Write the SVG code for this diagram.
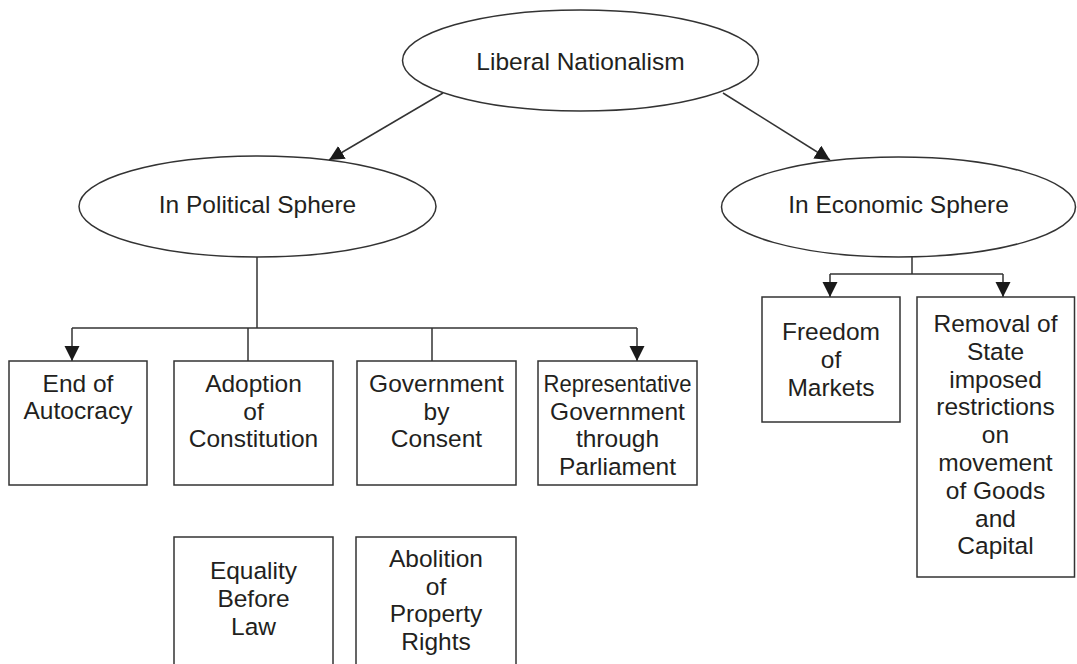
<svg xmlns="http://www.w3.org/2000/svg" width="1077" height="664" viewBox="0 0 1077 664">
<style>
.shape{fill:#fff;stroke:#333;stroke-width:1.5}
.line{fill:none;stroke:#333;stroke-width:1.5}
text{font-family:"Liberation Sans",Arial,sans-serif;font-size:24.5px;fill:#231f20;text-anchor:middle}
</style>
<defs>
<marker id="arr" markerUnits="userSpaceOnUse" markerWidth="16" markerHeight="16" refX="15" refY="7.5" orient="auto" viewBox="0 0 16 16">
<path d="M0,0 L15,7.5 L0,15 z" fill="#1a1a1a"/>
</marker>
</defs>
<rect width="1077" height="664" fill="#fff"/>
<g id="connectors">
<line class="line" x1="443" y1="93" x2="329" y2="160" marker-end="url(#arr)"/>
<line class="line" x1="723" y1="93" x2="830" y2="160" marker-end="url(#arr)"/>
<polyline class="line" points="257,257 257,328"/>
<polyline class="line" points="72,328 637,328"/>
<line class="line" x1="72" y1="328" x2="72" y2="361" marker-end="url(#arr)"/>
<line class="line" x1="248" y1="328" x2="248" y2="361"/>
<line class="line" x1="432" y1="328" x2="432" y2="361"/>
<line class="line" x1="637" y1="328" x2="637" y2="361" marker-end="url(#arr)"/>
<polyline class="line" points="912,257 912,274"/>
<polyline class="line" points="830,274 1003,274"/>
<line class="line" x1="830" y1="274" x2="830" y2="297" marker-end="url(#arr)"/>
<line class="line" x1="1003" y1="274" x2="1003" y2="297" marker-end="url(#arr)"/>
</g>
<g id="liberal-nationalism">
<ellipse class="shape" cx="580.5" cy="60.5" rx="178" ry="50.5"/>
<text x="580.5" y="70">Liberal Nationalism</text>
</g>
<g id="political-sphere">
<ellipse class="shape" cx="257.5" cy="206.5" rx="178.5" ry="50.5"/>
<text x="257.5" y="213">In Political Sphere</text>
</g>
<g id="economic-sphere">
<ellipse class="shape" cx="898.5" cy="207" rx="177" ry="50"/>
<text x="898.5" y="213">In Economic Sphere</text>
</g>
<g id="end-of-autocracy">
<rect class="shape" x="9" y="361" width="138" height="124"/>
<text x="78" y="392">End of</text>
<text x="78" y="419">Autocracy</text>
</g>
<g id="adoption-of-constitution">
<rect class="shape" x="174" y="361" width="159" height="124"/>
<text x="253.5" y="392">Adoption</text>
<text x="253.5" y="419.5">of</text>
<text x="253.5" y="447">Constitution</text>
</g>
<g id="government-by-consent">
<rect class="shape" x="357" y="361" width="159" height="124"/>
<text x="436.5" y="392">Government</text>
<text x="436.5" y="419.5">by</text>
<text x="436.5" y="447">Consent</text>
</g>
<g id="representative-government">
<rect class="shape" x="538" y="361" width="159" height="124"/>
<text x="617.5" y="392" textLength="148" lengthAdjust="spacingAndGlyphs">Representative</text>
<text x="617.5" y="419.5">Government</text>
<text x="617.5" y="447">through</text>
<text x="617.5" y="474.5">Parliament</text>
</g>
<g id="equality-before-law">
<rect class="shape" x="174" y="537" width="159" height="140"/>
<text x="253.5" y="579">Equality</text>
<text x="253.5" y="607">Before</text>
<text x="253.5" y="634.5">Law</text>
</g>
<g id="abolition-of-property-rights">
<rect class="shape" x="356" y="537" width="160" height="140"/>
<text x="436" y="567">Abolition</text>
<text x="436" y="594.5">of</text>
<text x="436" y="622">Property</text>
<text x="436" y="649.5">Rights</text>
</g>
<g id="freedom-of-markets">
<rect class="shape" x="762" y="297" width="138" height="125"/>
<text x="831" y="340">Freedom</text>
<text x="831" y="368">of</text>
<text x="831" y="396">Markets</text>
</g>
<g id="removal-of-restrictions">
<rect class="shape" x="917" y="297" width="157.5" height="280"/>
<text x="995.5" y="332">Removal of</text>
<text x="995.5" y="359.8">State</text>
<text x="995.5" y="387.6">imposed</text>
<text x="995.5" y="415.4">restrictions</text>
<text x="995.5" y="443.2">on</text>
<text x="995.5" y="471">movement</text>
<text x="995.5" y="498.8">of Goods</text>
<text x="995.5" y="526.6">and</text>
<text x="995.5" y="554.4">Capital</text>
</g>
</svg>
